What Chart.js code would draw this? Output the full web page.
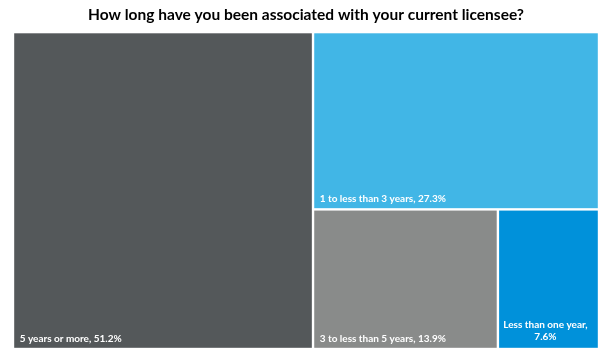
<!DOCTYPE html>
<html>
<head>
<meta charset="utf-8">
<script src="https://cdn.jsdelivr.net/npm/chart.js@4"></script>
<style>
    html, body { margin: 0; padding: 0; background: #fff; }
    #wrap { width: 612px; height: 355px; }
</style>
</head>
<body>
<div id="wrap"><canvas id="myChart"></canvas></div>
<script>
const categories = ["5 years or more", "1 to less than 3 years", "3 to less than 5 years", "Less than one year"];
const values = [51.2, 27.3, 13.9, 7.6];
const colors = ["#54585A", "#41B6E6", "#898B8A", "#0091DA"];

// squarified layout, worked out in pixel space then mapped back to scale values
function squarify(items, rect) {
    const out = [];
    let rest = items.slice();
    let r = Object.assign({}, rect);
    const sum = (row) => row.reduce((s, it) => s + it.a, 0);
    const worst = function (row, side) {
        const s = sum(row);
        const mx = Math.max(...row.map((it) => it.a));
        const mn = Math.min(...row.map((it) => it.a));
        return Math.max((side * side * mx) / (s * s), (s * s) / (side * side * mn));
    };
    while (rest.length) {
        const side = Math.min(r.w, r.h);
        const row = [rest[0]];
        let i = 1;
        while (i < rest.length && worst(row.concat(rest[i]), side) <= worst(row, side)) {
            row.push(rest[i]);
            i++;
        }
        rest = rest.slice(i);
        const s = sum(row);
        if (r.w >= r.h) {
            const cw = s / r.h;
            let yy = r.y;
            row.forEach(function (it) {
                const hh = it.a / cw;
                out.push(Object.assign({}, it, { x: r.x, y: yy, w: cw, h: hh }));
                yy += hh;
            });
            r = { x: r.x + cw, y: r.y, w: r.w - cw, h: r.h };
        } else {
            const rh = s / r.w;
            let xx = r.x;
            row.forEach(function (it) {
                const ww = it.a / rh;
                out.push(Object.assign({}, it, { x: xx, y: r.y, w: ww, h: rh }));
                xx += ww;
            });
            r = { x: r.x, y: r.y + rh, w: r.w, h: r.h - rh };
        }
    }
    return out;
}

const treemapPlugin = {
    id: "treemapCells",
    afterDatasetsDraw(chart) {
        const { ctx, chartArea, scales } = chart;
        const W = chartArea.right - chartArea.left;
        const H = chartArea.bottom - chartArea.top;
        const total = values.reduce((a, b) => a + b, 0);
        const items = values.map((v, i) => ({ i: i, a: (v / total) * W * H }));
        const cells = squarify(items, { x: 0, y: 0, w: W, h: H });
        const gap = 1.2;

        ctx.save();
        cells.forEach(function (c) {
            // back to scale units (0..100 on both axes)
            const x0 = scales.x.getPixelForValue((c.x / W) * 100) + gap;
            const x1 = scales.x.getPixelForValue(((c.x + c.w) / W) * 100) - gap;
            const y0 = scales.y.getPixelForValue((c.y / H) * 100) + gap;
            const y1 = scales.y.getPixelForValue(((c.y + c.h) / H) * 100) - gap;
            ctx.fillStyle = colors[c.i];
            ctx.fillRect(x0, y0, x1 - x0, y1 - y0);

            const label = categories[c.i] + ", " + values[c.i] + "%";
            ctx.font = "bold 10px Lato";
            ctx.fillStyle = "#ffffff";
            ctx.textBaseline = "alphabetic";
            if (ctx.measureText(label).width < x1 - x0 - 10) {
                ctx.textAlign = "left";
                ctx.fillText(label, x0 + 5.5, y1 - 6);
            } else {
                const lines = [categories[c.i] + ",", values[c.i] + "%"];
                ctx.textAlign = "center";
                const cx = (x0 + x1) / 2 - 3;
                lines.forEach(function (ln, k) {
                    ctx.fillText(ln, cx, y1 - 7.5 - (lines.length - 1 - k) * 12.7);
                });
            }
        });
        ctx.restore();
    },
};

const ctx = document.getElementById("myChart");

new Chart(ctx, {
    type: "scatter",
    data: {
        labels: categories,
        datasets: [
            {
                label: "Share",
                data: [],
            },
        ],
    },
    options: {
        responsive: true,
        maintainAspectRatio: false,
        animation: false,
        layout: {
            padding: { left: 13, right: 13, top: 0, bottom: 6 },
        },
        scales: {
            x: { type: "linear", min: 0, max: 100, display: false },
            y: { type: "linear", min: 0, max: 100, reverse: true, display: false },
        },
        plugins: {
            legend: { display: false },
            tooltip: { enabled: false },
            title: {
                display: true,
                text: "How long have you been associated with your current licensee?",
                color: "#000000",
                font: { family: "Lato", size: 15.5, weight: "bold" },
                padding: { top: 5.5, bottom: 8 },
            },
        },
    },
    plugins: [treemapPlugin],
});
</script>
</body>
</html>
